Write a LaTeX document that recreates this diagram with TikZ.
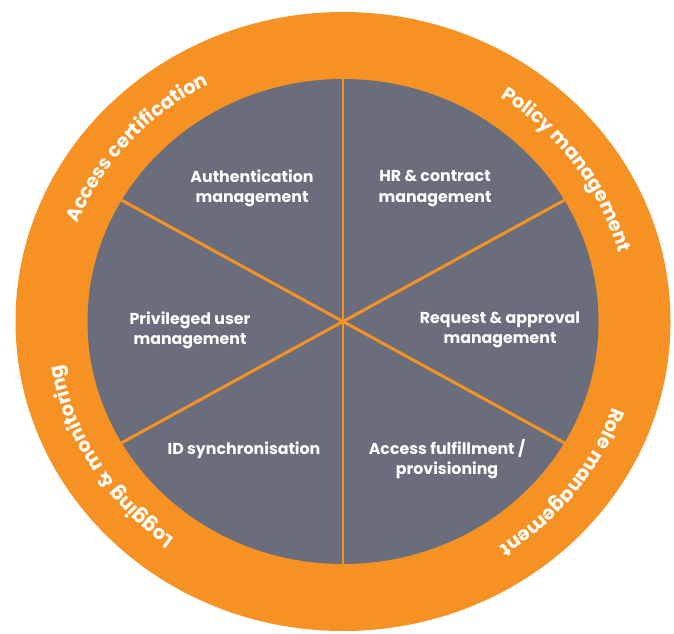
\documentclass[tikz,border=0pt]{standalone}
\usepackage{fontspec}
\setmainfont{Poppins}
\usetikzlibrary{decorations.text}
\definecolor{ringorange}{RGB}{246,146,36}
\definecolor{discgray}{RGB}{106,109,124}
\newcommand\ringfont{\fontsize{10.9}{13}\selectfont\bfseries}

\begin{document}
\begin{tikzpicture}[
  spoke/.style={draw=ringorange,line width=1.7pt},
  sector/.style={text=white,align=center,font=\fontsize{9}{11.4}\selectfont\bfseries},
  ringtext/.style={decorate,decoration={text along path,text align=center,text color=white,text={#1}}}
]
\useasboundingbox (0,0) rectangle (13.48,12.66);
\coordinate (c) at (6.86,6.23);
% outer ring and inner disc
\fill[ringorange] (c) ellipse[x radius=6.55,y radius=6.19];
\fill[discgray] (c) ellipse[x radius=5.11,y radius=4.85];
% spoke ends on the disc edge
\foreach \a in {30,90,150,210,270,330}
  \path (c) ++(\a:5.11 and 4.85) coordinate (s\a);
\path[spoke]
(s90) edge (s270)
(s150) edge (s330)
(s30) edge (s210);
% sector labels
\node[sector] (auth) at (5.04,8.89) {Authentication\\management};
\node[sector] (hr) at (8.70,8.89) {HR \& contract\\management};
\node[sector] (priv) at (3.80,6.06) {Privileged user\\management};
\node[sector] (req) at (10.00,6.06) {Request \& approval\\management};
\node[sector] (idsync) at (4.88,3.66) {ID synchronisation};
\node[sector] (fulfil) at (8.94,3.48) {Access fulfillment /\\provisioning};
% ring labels, arcs run clockwise so the letters face outwards
\foreach \m in {139,35,-37,-149}
  \path (c) ++(\m+45:5.69 and 5.38) coordinate (r\m);
\path[ringtext={|\ringfont|Access certification}] (r139) arc[start angle=184,end angle=94,x radius=5.69,y radius=5.38];
\path[ringtext={|\ringfont|Policy management}] (r35) arc[start angle=80,end angle=-10,x radius=5.69,y radius=5.38];
\path[ringtext={|\ringfont|Role management}] (r-37) arc[start angle=8,end angle=-82,x radius=5.69,y radius=5.38];
\path[ringtext={|\ringfont|Logging {\&} monitoring}] (r-149) arc[start angle=-104,end angle=-194,x radius=5.69,y radius=5.38];
\end{tikzpicture}
\end{document}
